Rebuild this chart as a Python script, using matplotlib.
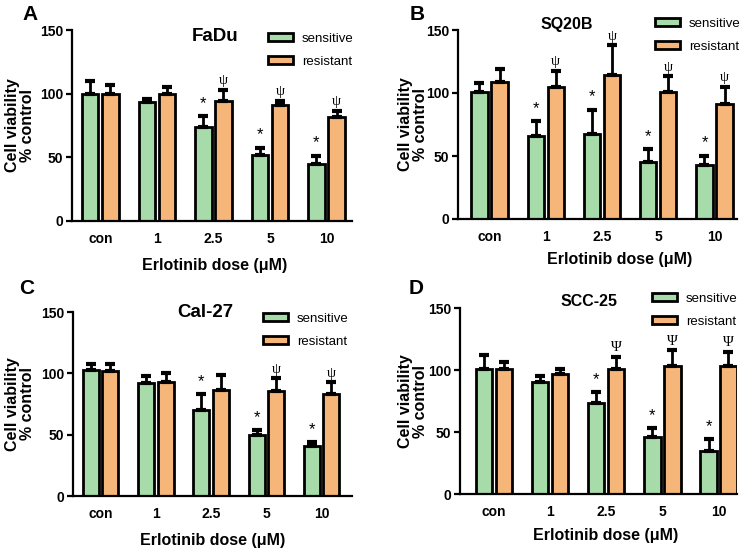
import matplotlib
matplotlib.use("Agg")
import matplotlib.pyplot as plt
import numpy as np

plt.rcParams['font.family'] = ['Liberation Sans', 'DejaVu Sans']

doses = ["con", "1", "2.5", "5", "10"]

# panel A - FaDu
fadu_sens = [100, 93.5, 74, 51.5, 45]
fadu_sens_err = [10, 2.5, 8.5, 6, 6.3]
fadu_res = [100, 100, 94.5, 91.4, 81.4]
fadu_res_err = [7, 5.5, 8.5, 3, 5.2]
fadu_star = [False, False, True, True, True]
fadu_psi = [False, False, True, True, True]

# panel B - SQ20B
sq_sens = [100.5, 66, 67.7, 45, 43]
sq_sens_err = [7.2, 11.8, 19.1, 10.6, 7.3]
sq_res = [108.5, 105, 114.5, 100.5, 91]
sq_res_err = [10.5, 12.7, 23.5, 13, 14]
sq_star = [False, True, True, True, True]
sq_psi = [False, True, True, True, True]

# panel C - Cal-27
cal_sens = [102.4, 92, 70.5, 49.5, 41]
cal_sens_err = [5.6, 5.7, 12.5, 4.5, 3]
cal_res = [101.5, 92.6, 86.6, 85.5, 82.8]
cal_res_err = [6.5, 7.4, 12.2, 10.9, 9.8]
cal_star = [False, False, True, True, True]
cal_psi = [False, False, False, True, True]

# panel D - SCC-25
scc_sens = [100.6, 90.4, 73, 46, 35]
scc_sens_err = [11.4, 4.9, 9.6, 7, 9.5]
scc_res = [100.6, 97, 101, 103, 103.6]
scc_res_err = [6.2, 3.6, 9.8, 13, 11.2]
scc_star = [False, False, True, True, True]
scc_psi = [False, False, True, True, True]

green = '#a7dcaa'
orange = '#f6b679'

panels = [
    dict(letter="A", title="FaDu", sens=fadu_sens, se=fadu_sens_err, res=fadu_res, re=fadu_res_err,
         star=fadu_star, psi=fadu_psi, psi_char="\u03c8", tsize=13.5,
         rect=[72, 30, 352, 221], xlim=(-0.5, 4.45), tpos=(0.51, 0.966), xl=(0.51, -0.194),
         yl=35, leg=(268, 33), let=(30, 14)),
    dict(letter="B", title="SQ20B", sens=sq_sens, se=sq_sens_err, res=sq_res, re=sq_res_err,
         star=sq_star, psi=sq_psi, psi_char="\u03c8", tsize=11.5,
         rect=[458, 30, 737, 219], xlim=(-0.56, 4.4), tpos=(0.39, 1.03), xl=(0.58, -0.175),
         yl=428, leg=(655, 18), let=(417, 14)),
    dict(letter="C", title="Cal-27", sens=cal_sens, se=cal_sens_err, res=cal_res, re=cal_res_err,
         star=cal_star, psi=cal_psi, psi_char="\u03c8", tsize=13.5,
         rect=[73, 312, 352, 496], xlim=(-0.5, 4.55), tpos=(0.476, 0.995), xl=(0.5, -0.2),
         yl=35, leg=(263, 313), let=(27, 288)),
    dict(letter="D", title="SCC-25", sens=scc_sens, se=scc_sens_err, res=scc_res, re=scc_res_err,
         star=scc_star, psi=scc_psi, psi_char="\u03a8", tsize=11.5,
         rect=[460, 308, 737, 494], xlim=(-0.61, 4.33), tpos=(0.466, 1.035), xl=(0.526, -0.183),
         yl=428, leg=(652, 293), let=(416, 288)),
]

W, H = 750, 551
fig = plt.figure(figsize=(7.5, 5.51), dpi=100)

x = np.arange(len(doses))
bw = 0.29
off = 0.178

for p in panels:
    l, t, r, b = p["rect"]
    ax = fig.add_axes([l / W, 1 - b / H, (r - l) / W, (b - t) / H])
    ekw = dict(ecolor='black', elinewidth=2, capsize=3.5, capthick=3)
    zeros = [0] * len(doses)
    ax.bar(x - off, p["sens"], bw, yerr=[zeros, p["se"]], color=green, edgecolor='black',
           linewidth=2, error_kw=ekw, label="sensitive")
    ax.bar(x + off, p["res"], bw, yerr=[zeros, p["re"]], color=orange, edgecolor='black',
           linewidth=2, error_kw=ekw, label="resistant")
    for i in range(len(doses)):
        if p["star"][i]:
            ax.text(x[i] - off, p["sens"][i] + p["se"][i] + 10, "*", ha='center', va='center',
                    fontsize=12)
        if p["psi"][i]:
            ax.text(x[i] + off, p["res"][i] + p["re"][i] + 7, p["psi_char"], ha='center',
                    va='center', fontsize=10.5, family=['Liberation Serif', 'DejaVu Serif'])
    ax.set_ylim(0, 150)
    ax.set_yticks([0, 50, 100, 150])
    ax.set_xlim(*p["xlim"])
    ax.set_xticks(x)
    ax.set_xticklabels(doses)
    for s in ['top', 'right']:
        ax.spines[s].set_visible(False)
    for s in ['left', 'bottom']:
        ax.spines[s].set_linewidth(1.6)
    ax.tick_params(axis='y', length=4.5, width=1.6, pad=2, labelsize=10)
    ax.tick_params(axis='x', length=0, pad=8, labelsize=10)
    for lab in ax.get_xticklabels() + ax.get_yticklabels():
        lab.set_fontweight('bold')
    ax.set_ylabel("Cell viability\n% control", fontsize=11.5, fontweight='bold', linespacing=1.0)
    ax.yaxis.set_label_coords((p["yl"] - l) / (r - l), 0.5)
    ax.set_xlabel("Erlotinib dose (\u03bcM)", fontsize=11.5, fontweight='bold')
    ax.xaxis.set_label_coords(*p["xl"])
    ax.text(p["tpos"][0], p["tpos"][1], p["title"], transform=ax.transAxes, ha='center',
            va='center', fontsize=p["tsize"], fontweight='bold')
    fig.text(p["let"][0] / W, 1 - p["let"][1] / H, p["letter"], ha='center', va='center',
             fontsize=15, fontweight='bold')
    leg = ax.legend(loc='upper left', bbox_to_anchor=(p["leg"][0] / W, 1 - p["leg"][1] / H),
                    bbox_transform=fig.transFigure, frameon=False, fontsize=9.5,
                    handlelength=1.9, handleheight=0.55, handletextpad=0.68, labelspacing=0.8,
                    borderpad=0, borderaxespad=0)
    for h in leg.legend_handles:
        h.set_linewidth(2)

fig.savefig("out.png", dpi=100)
